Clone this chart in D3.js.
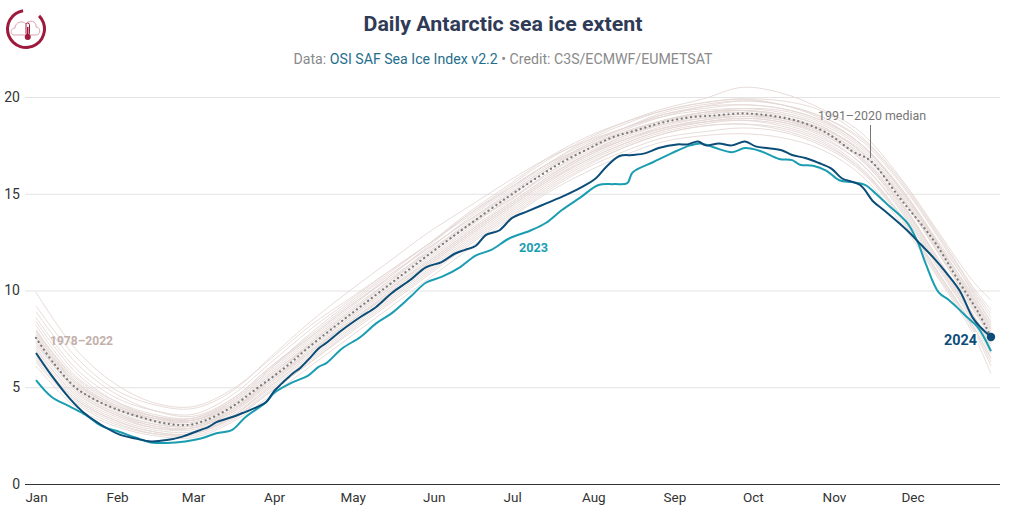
<!DOCTYPE html>
<html>
<head>
<meta charset="utf-8">
<script src="https://cdn.jsdelivr.net/npm/d3@7"></script>
<style>
  html, body { margin: 0; padding: 0; background: #fff; }
  svg { display: block; font-family: Roboto, "Noto Sans", sans-serif; }
</style>
</head>
<body>
<svg id="chart" width="1012" height="517"></svg>
<script>
// ---------- DATA ----------
const monthLabels = ["Jan","Feb","Mar","Apr","May","Jun","Jul","Aug","Sep","Oct","Nov","Dec"];
const monthStartDoy = [0,31,60,91,121,152,182,213,244,274,305,335];
const yTicks = [0,5,10,15,20];

// 1978–2022 individual years (sampled on historyDoy), million km²
const historyDoy = [0,15,30,45,60,75,90,105,120,135,150,165,180,195,210,225,240,255,270,285,300,315,330,345,358,365];
const historyLines = [
  [9.9,7.0,5.2,4.2,4.0,4.9,6.5,8.2,9.6,11.0,12.4,13.8,15.2,16.5,17.4,18.2,18.8,19.2,19.3,19.0,18.4,17.2,15.0,12.1,9.6,8.2],
  [9.2,6.6,4.9,4.1,3.9,4.8,6.6,8.4,10.0,11.5,13.0,14.3,15.6,16.8,17.7,18.4,19.1,19.4,19.6,19.4,18.8,17.6,15.4,12.5,10.0,8.6],
  [8.6,6.0,4.5,3.8,3.6,4.6,6.3,8.0,9.5,11.0,12.4,13.9,15.2,16.5,17.6,18.4,19.0,19.3,19.4,19.2,18.6,17.4,15.2,12.3,9.8,8.3],
  [8.2,5.6,4.3,3.6,3.4,4.3,6.0,7.6,9.2,10.7,12.2,13.6,14.9,16.3,17.4,18.2,18.8,19.1,19.2,18.9,18.2,16.9,14.6,11.6,9.0,7.6],
  [8.0,5.4,4.1,3.4,3.2,4.1,5.7,7.2,8.8,10.3,11.8,13.3,14.6,16.0,17.1,18.0,18.6,18.9,19.0,18.8,18.2,16.9,14.6,11.5,8.8,7.3],
  [7.8,5.2,4.0,3.3,3.1,3.9,5.4,7.0,8.6,10.1,11.6,13.1,14.5,16.0,17.2,18.1,18.8,19.2,19.4,19.3,18.7,17.5,15.3,12.4,9.7,8.1],
  [7.6,5.1,3.9,3.2,3.0,3.9,5.5,7.2,8.7,10.2,11.7,13.2,14.7,16.2,17.4,18.3,19.0,19.5,19.8,19.6,19.0,17.8,15.6,12.7,9.9,8.4],
  [7.5,5.0,3.8,3.1,3.0,3.8,5.3,6.8,8.4,9.8,11.3,12.8,14.2,15.6,16.8,17.7,18.4,18.8,19.0,18.8,18.1,16.8,14.5,11.4,8.7,7.1],
  [7.3,4.9,3.7,3.0,2.9,3.7,5.3,6.9,8.5,10.0,11.5,13.0,14.4,15.8,17.0,17.9,18.6,19.0,19.1,18.9,18.3,17.1,14.9,11.9,9.1,7.6],
  [7.1,4.8,3.6,2.9,2.8,3.6,5.1,6.6,8.2,9.7,11.2,12.7,14.1,15.5,16.7,17.6,18.3,18.7,18.9,18.7,18.0,16.6,14.3,11.2,8.5,6.9],
  [7.0,4.6,3.5,2.9,2.9,3.8,5.5,7.3,8.9,10.4,12.0,13.5,14.9,16.3,17.5,18.4,19.1,19.5,19.6,19.4,18.8,17.6,15.4,12.4,9.6,8.0],
  [6.8,4.5,3.4,2.8,2.7,3.5,5.0,6.5,8.1,9.6,11.1,12.6,14.0,15.4,16.6,17.5,18.2,18.6,18.8,18.6,17.9,16.6,14.2,11.1,8.4,6.7],
  [6.6,4.4,3.3,2.7,2.6,3.4,4.9,6.4,8.0,9.5,11.0,12.5,13.9,15.3,16.5,17.4,18.1,18.5,18.6,18.4,17.7,16.3,13.9,10.8,8.1,6.3],
  [6.4,4.3,3.2,2.6,2.5,3.3,4.8,6.3,7.8,9.3,10.8,12.3,13.7,15.1,16.3,17.2,17.9,18.2,18.4,18.2,17.5,16.2,13.8,10.7,8.0,6.1],
  [6.1,4.0,3.0,2.5,2.4,3.2,4.6,6.1,7.6,9.1,10.6,12.1,13.6,15.0,16.1,17.0,17.7,18.0,18.1,17.9,17.3,16.0,13.6,10.6,7.8,5.7],
  [8.4,5.8,4.3,3.5,3.3,4.2,5.9,7.5,9.1,10.7,12.3,13.9,15.3,16.7,17.8,18.7,19.4,19.9,20.5,20.2,19.4,18.2,15.9,13.0,10.5,9.5],
  [7.9,5.3,4.0,3.4,3.3,4.3,6.0,7.8,9.4,10.9,12.4,14.0,15.4,16.8,17.9,18.7,19.3,19.7,19.9,19.8,19.3,18.0,15.8,12.9,10.2,9.0],
  [7.7,5.3,4.1,3.5,3.4,4.4,6.1,7.6,9.2,10.6,12.0,13.4,14.6,15.9,17.0,17.8,18.4,18.8,19.0,18.9,18.4,17.3,15.1,12.2,9.4,7.9],
  [7.2,5.0,3.9,3.3,3.2,4.0,5.6,7.1,8.6,10.1,11.5,13.0,14.4,15.8,17.0,18.0,18.7,19.1,19.3,19.1,18.5,17.2,15.0,12.0,9.3,7.8],
  [6.9,4.7,3.6,3.0,2.9,3.7,5.2,6.8,8.4,9.9,11.4,12.9,14.3,15.7,16.9,17.8,18.5,18.9,19.1,18.9,18.3,17.0,14.7,11.6,8.8,7.2],
  [8.9,6.3,4.7,3.8,3.5,4.4,6.1,7.7,9.3,10.8,12.2,13.6,15.0,16.4,17.5,18.4,19.2,19.6,19.8,19.6,19.0,17.9,15.7,12.8,10.1,8.8],
  [7.4,4.9,3.7,3.1,3.0,3.8,5.4,6.9,8.4,9.9,11.4,12.9,14.3,15.7,16.9,17.8,18.4,18.7,18.8,18.5,17.8,16.4,14.0,10.9,8.2,6.5],
  [6.5,4.4,3.3,2.7,2.6,3.5,5.1,6.7,8.3,9.8,11.3,12.8,14.2,15.6,16.7,17.6,18.3,18.7,18.9,18.7,18.1,16.8,14.4,11.3,8.6,6.8],
  [7.9,5.5,4.2,3.5,3.3,4.1,5.7,7.3,8.9,10.5,12.1,13.7,15.1,16.5,17.7,18.6,19.3,19.7,19.9,19.6,18.9,17.6,15.3,12.3,9.5,8.0],
  [6.3,4.2,3.1,2.6,2.6,3.4,4.8,6.3,7.9,9.4,10.9,12.4,13.8,15.2,16.4,17.4,18.1,18.5,18.6,18.3,17.6,16.3,14.0,10.9,8.2,6.5],
  [7.6,5.2,4.0,3.4,3.3,4.2,5.8,7.4,9.0,10.5,11.9,13.4,14.8,16.2,17.3,18.1,18.8,19.2,19.3,19.1,18.5,17.2,14.9,11.9,9.2,7.7]
];

// 1991–2020 median
const medianDoy = [0,7,15,22,30,40,50,58,65,75,85,95,105,120,135,150,165,180,190,200,210,220,230,240,250,260,270,280,290,300,305,312,319,330,343,353,360,365];
const medianValues = [7.55,6.2,5.0,4.4,3.9,3.45,3.12,3.05,3.3,4.0,5.0,6.0,7.15,8.75,10.3,11.85,13.35,14.8,15.7,16.55,17.25,17.9,18.3,18.7,18.95,19.05,19.15,19.05,18.8,18.3,17.9,17.2,16.7,14.8,12.6,10.4,8.9,7.6];

// 2023
const y2023Doy = [0,6,13,19,25,32,38,44,50,57,63,69,75,80,88,91,98,104,108,111,117,124,130,136,143,149,155,162,168,174,181,189,195,201,208,215,221,226,228,236,243,250,254,259,266,271,277,284,289,292,297,302,307,312,317,321,325,333,337,340,345,349,353,356,360,365];
const y2023Values = [5.37,4.5,4.0,3.57,3.0,2.69,2.4,2.15,2.12,2.2,2.35,2.62,2.8,3.45,4.24,4.7,5.25,5.6,6.05,6.25,7.0,7.6,8.3,8.83,9.66,10.4,10.7,11.2,11.8,12.1,12.7,13.1,13.5,14.16,14.8,15.45,15.5,15.55,16.1,16.64,17.1,17.5,17.6,17.4,17.15,17.36,17.2,16.8,16.74,16.5,16.45,16.2,15.7,15.6,15.45,15.0,14.5,13.5,12.5,11.4,9.9,9.5,9.0,8.6,8.1,6.87];

// 2024
const y2024Doy = [0,6,13,19,25,32,38,44,50,56,60,63,66,69,75,79,84,88,91,94,98,101,105,108,111,117,124,130,136,143,149,155,160,164,168,172,177,182,188,195,202,208,214,218,223,228,233,238,245,249,253,256,261,266,271,275,280,285,289,294,299,304,308,315,320,324,333,338,343,348,353,358,361,365];
const y2024Values = [6.77,5.6,4.4,3.6,3.05,2.55,2.35,2.2,2.27,2.45,2.65,2.8,2.95,3.2,3.46,3.67,3.95,4.24,4.8,5.2,5.7,6.0,6.56,7.0,7.3,7.96,8.63,9.15,9.87,10.54,11.2,11.47,11.9,12.1,12.3,12.87,13.1,13.75,14.1,14.5,14.9,15.3,15.8,16.4,16.95,17.0,17.1,17.36,17.55,17.55,17.7,17.5,17.6,17.5,17.7,17.45,17.35,17.25,17.0,16.85,16.6,16.3,15.8,15.45,14.6,14.16,13.1,12.4,11.7,10.9,10.0,8.6,8.1,7.6];

// ---------- CHART ----------
const svg = d3.select("#chart");
const x = d3.scaleLinear().domain([0, 365]).range([36, 991]);
const y = d3.scaleLinear().domain([0, 20]).range([484, 97]);

// y axis + gridlines
const yAxis = svg.append("g")
  .attr("transform", "translate(25,0)")
  .call(d3.axisLeft(y).tickValues(yTicks).tickSize(-975).tickPadding(5).tickFormat(d3.format("d")));
yAxis.select(".domain").remove();
yAxis.selectAll(".tick line").attr("stroke", "#e3e3e3").attr("stroke-width", 1);
yAxis.selectAll(".tick").filter(d => d === 0).select("line").attr("stroke", "#333").attr("stroke-width", 1.2);
yAxis.selectAll(".tick text").attr("fill", "#333").attr("font-size", 14).attr("font-family", "Roboto");

// x axis labels
const xAxis = svg.append("g")
  .attr("transform", "translate(0,488)")
  .call(d3.axisBottom(x).tickValues(monthStartDoy).tickSize(0).tickPadding(4).tickFormat((d, i) => monthLabels[i]));
xAxis.select(".domain").remove();
xAxis.selectAll(".tick text").attr("fill", "#333").attr("font-size", 13.5).attr("font-family", "Roboto");

const line = (doys) => d3.line().x((d, i) => x(doys[i])).y(d => y(d)).curve(d3.curveCatmullRom.alpha(0.5));

// history lines
svg.append("g").selectAll("path").data(historyLines).join("path")
  .attr("d", d => line(historyDoy)(d))
  .attr("fill", "none").attr("stroke", "#e4d8d5").attr("stroke-width", 1).attr("opacity", 0.9);

// median
svg.append("path").attr("d", line(medianDoy)(medianValues))
  .attr("fill", "none").attr("stroke", "#7b7b7b").attr("stroke-width", 2.2)
  .attr("stroke-linecap", "round").attr("stroke-dasharray", "0.1,4.6");

// 2023
svg.append("path").attr("d", line(y2023Doy)(y2023Values))
  .attr("fill", "none").attr("stroke", "#1a9db1").attr("stroke-width", 2).attr("stroke-linejoin", "round");

// 2024
svg.append("path").attr("d", line(y2024Doy)(y2024Values))
  .attr("fill", "none").attr("stroke", "#0b4d78").attr("stroke-width", 2).attr("stroke-linejoin", "round");

svg.append("circle")
  .attr("cx", x(y2024Doy[y2024Doy.length - 1]))
  .attr("cy", y(y2024Values[y2024Values.length - 1]))
  .attr("r", 4.2).attr("fill", "#0b4d78");

// labels
svg.append("text").attr("x", 50).attr("y", 345).text("1978–2022")
  .attr("font-size", 13).attr("font-weight", 700).attr("fill", "#c3b0ab")
  .attr("textLength", 63).attr("lengthAdjust", "spacingAndGlyphs");

svg.append("text").attr("x", 519).attr("y", 252).text("2023")
  .attr("font-size", 13).attr("font-weight", 700).attr("fill", "#1a9db1")
  .attr("textLength", 29).attr("lengthAdjust", "spacingAndGlyphs");

svg.append("text").attr("x", 977).attr("y", 345).attr("text-anchor", "end").text("2024")
  .attr("font-size", 15).attr("font-weight", 700).attr("fill", "#0b4d78")
  .attr("stroke", "#fff").attr("stroke-width", 3).attr("paint-order", "stroke")
  .attr("textLength", 33).attr("lengthAdjust", "spacingAndGlyphs");

svg.append("text").attr("x", 818).attr("y", 120).text("1991–2020 median")
  .attr("font-size", 13).attr("fill", "#777")
  .attr("textLength", 108).attr("lengthAdjust", "spacingAndGlyphs");
svg.append("line").attr("x1", 870.5).attr("x2", 870.5).attr("y1", 125).attr("y2", 158)
  .attr("stroke", "#777").attr("stroke-width", 1);

// title & subtitle
svg.append("text").attr("x", 503).attr("y", 31).attr("text-anchor", "middle")
  .text("Daily Antarctic sea ice extent")
  .attr("font-size", 21).attr("font-weight", 700).attr("fill", "#2f3a57")
  .attr("textLength", 279).attr("lengthAdjust", "spacingAndGlyphs");

const sub = svg.append("text").attr("x", 503).attr("y", 64).attr("text-anchor", "middle")
  .attr("font-size", 14.5).attr("fill", "#8a8a8a")
  .attr("textLength", 419).attr("lengthAdjust", "spacingAndGlyphs");
sub.append("tspan").text("Data: ");
sub.append("tspan").attr("fill", "#1f6e8c").text("OSI SAF Sea Ice Index v2.2");
sub.append("tspan").text(" • Credit: C3S/ECMWF/EUMETSAT");

// logo
const logo = svg.append("g").attr("transform", "translate(26,29)");
logo.append("path")
  .attr("d", d3.arc().innerRadius(17).outerRadius(20).startAngle(Math.PI * 0.25).endAngle(Math.PI * 1.95)())
  .attr("fill", "#9e1a3c");
logo.append("path")
  .attr("d", "M-12,6 C-16,6 -16,-1 -11,-1 C-11,-7 -3,-9 0,-5 C3,-10 11,-8 10,-2 C15,-2 15,6 10,6 Z")
  .attr("fill", "none").attr("stroke", "#d8a3b0").attr("stroke-width", 1);
logo.append("rect").attr("x", 0).attr("y", -6).attr("width", 3.5).attr("height", 12).attr("rx", 1.7)
  .attr("fill", "#fff").attr("stroke", "#9e1a3c").attr("stroke-width", 1);
logo.append("circle").attr("cx", 1.75).attr("cy", 8).attr("r", 3).attr("fill", "#9e1a3c");
logo.append("rect").attr("x", 1).attr("y", -2).attr("width", 1.5).attr("height", 9).attr("fill", "#9e1a3c");
</script>
</body>
</html>
